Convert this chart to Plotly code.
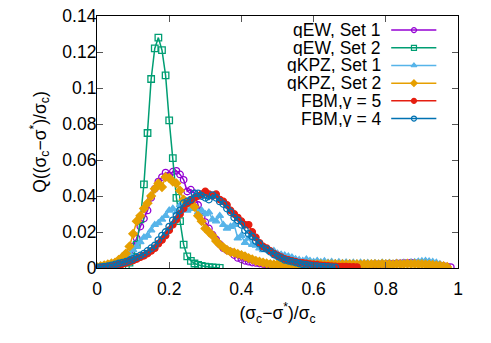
import plotly.graph_objects as go

# bin centres (shared by every series, each series uses the first len(y) bins)
x_bins = [
    0.00, 0.01, 0.02, 0.03, 0.04, 0.05, 0.06, 0.07, 0.08, 0.09,
    0.10, 0.11, 0.12, 0.13, 0.14, 0.15, 0.16, 0.17, 0.18, 0.19,
    0.20, 0.21, 0.22, 0.23, 0.24, 0.25, 0.26, 0.27, 0.28, 0.29,
    0.30, 0.31, 0.32, 0.33, 0.34, 0.35, 0.36, 0.37, 0.38, 0.39,
    0.40, 0.41, 0.42, 0.43, 0.44, 0.45, 0.46, 0.47, 0.48, 0.49,
    0.50, 0.51, 0.52, 0.53, 0.54, 0.55, 0.56, 0.57, 0.58, 0.59,
    0.60, 0.61, 0.62, 0.63, 0.64, 0.65, 0.66, 0.67, 0.68, 0.69,
    0.70, 0.71, 0.72, 0.73, 0.74, 0.75, 0.76, 0.77, 0.78, 0.79,
    0.80, 0.81, 0.82, 0.83, 0.84, 0.85, 0.86, 0.87, 0.88, 0.89,
    0.90, 0.91, 0.92, 0.93, 0.94, 0.95, 0.96, 0.97, 0.98,
]

qew_set1 = [
    0.0002, 0.0003, 0.0005, 0.0008, 0.0012, 0.0018, 0.0025, 0.0035, 0.0055, 0.0085,
    0.012, 0.0165, 0.023, 0.0275, 0.032, 0.039, 0.044, 0.048, 0.0505, 0.053,
    0.0515, 0.0535, 0.054, 0.052, 0.049, 0.0425, 0.0435, 0.0415, 0.035, 0.0285,
    0.0255, 0.022, 0.0185, 0.0158, 0.0132, 0.011, 0.0098, 0.009, 0.0072, 0.0056,
    0.0048, 0.004, 0.0035, 0.003, 0.0028, 0.0025, 0.0022, 0.002, 0.0018, 0.0017,
    0.0015, 0.0014, 0.0012, 0.0013, 0.0011, 0.0012, 0.001, 0.0012, 0.0011, 0.0013,
    0.0012, 0.0014, 0.0013, 0.0015, 0.0014, 0.0016, 0.0015, 0.0017, 0.0016, 0.0018,
    0.0017, 0.0018, 0.0016, 0.0019, 0.0018, 0.002, 0.0019, 0.0021, 0.002, 0.0022,
    0.0021, 0.0024, 0.0023, 0.0026, 0.0025, 0.0028, 0.0027, 0.003, 0.0029, 0.0026,
    0.0028, 0.0025, 0.0022, 0.002, 0.0017, 0.0014, 0.0011, 0.0008, 0.0005,
]

qew_set2 = [
    0.0, 0.0, 0.0, 0.0, 0.0001, 0.0003, 0.0005, 0.001, 0.0015, 0.003,
    0.006, 0.013, 0.027, 0.0465, 0.075, 0.105, 0.122, 0.128, 0.121, 0.107,
    0.082, 0.061, 0.039, 0.026, 0.013, 0.0065, 0.004, 0.0025, 0.0017, 0.0012,
    0.0008, 0.0005, 0.0003, 0.0002, 0.0001,
]

qkpz_set1 = [
    0.0003, 0.0005, 0.001, 0.0015, 0.002, 0.003, 0.0035, 0.0045, 0.006, 0.008,
    0.010, 0.012, 0.0145, 0.017, 0.018, 0.021, 0.024, 0.025, 0.027, 0.029,
    0.032, 0.033, 0.031, 0.035, 0.034, 0.032, 0.033, 0.033, 0.031, 0.032,
    0.030, 0.031, 0.027, 0.026, 0.029, 0.024, 0.022, 0.023, 0.024, 0.0165,
    0.018, 0.014, 0.0165, 0.013, 0.0125, 0.011, 0.010, 0.0105, 0.009, 0.0095,
    0.008, 0.0075, 0.007, 0.0065, 0.006, 0.005, 0.0045, 0.004, 0.0048, 0.004,
    0.0035, 0.004, 0.0033, 0.0038, 0.003, 0.0035, 0.0028, 0.0033, 0.0027, 0.0031,
    0.0026, 0.003, 0.0025, 0.003, 0.0026, 0.0029, 0.0024, 0.0028, 0.0025, 0.003,
    0.0026, 0.0029, 0.0025, 0.0029, 0.0027, 0.003, 0.0028, 0.0031, 0.0033, 0.0036,
    0.0038, 0.004, 0.0037, 0.0034, 0.003, 0.0022, 0.0012,
]

qkpz_set2 = [
    0.0005, 0.001, 0.0015, 0.002, 0.0025, 0.003, 0.0045, 0.006, 0.008, 0.012,
    0.019, 0.026, 0.029, 0.033, 0.036, 0.040, 0.044, 0.047, 0.045, 0.0505,
    0.050, 0.048, 0.047, 0.043, 0.038, 0.036, 0.037, 0.034, 0.029, 0.026,
    0.022, 0.020, 0.018, 0.015, 0.013, 0.0115, 0.010, 0.009, 0.0085, 0.0078,
    0.0072, 0.0065, 0.0055, 0.0048, 0.004, 0.0035, 0.003, 0.0025, 0.0022, 0.002,
    0.0021, 0.0019, 0.002, 0.0018, 0.0021, 0.0019, 0.002, 0.0018, 0.002, 0.0021,
    0.0019, 0.002, 0.0022, 0.0019, 0.0021, 0.002, 0.0022, 0.0019, 0.0021, 0.002,
    0.0022, 0.002, 0.0021, 0.0019, 0.0022, 0.002, 0.0021, 0.0022, 0.002, 0.0023,
    0.0021, 0.0022, 0.002, 0.0023, 0.0021, 0.0022, 0.0024, 0.0022, 0.0023, 0.0021,
    0.0022, 0.002, 0.0019, 0.0017, 0.0015, 0.0013, 0.001, 0.0006,
]

fbm_g5 = [
    0.0002, 0.0004, 0.0006, 0.0008, 0.001, 0.0013, 0.0018, 0.0022, 0.0028, 0.0035,
    0.0042, 0.005, 0.006, 0.0068, 0.008, 0.0095, 0.011, 0.0135, 0.0155, 0.018,
    0.021, 0.024, 0.027, 0.030, 0.033, 0.036, 0.0375, 0.039, 0.040, 0.041,
    0.0425, 0.041, 0.040, 0.041, 0.038, 0.037, 0.035, 0.032, 0.030, 0.028,
    0.026, 0.024, 0.024, 0.020, 0.017, 0.014, 0.012, 0.011, 0.0095, 0.008,
    0.007, 0.006, 0.005, 0.0045, 0.004, 0.0035, 0.003, 0.0028, 0.0025, 0.0022,
    0.002, 0.0018, 0.0015, 0.0013, 0.0012, 0.001, 0.0009, 0.0008, 0.0008, 0.0007,
    0.0006, 0.0006, 0.0005,
]

fbm_g4 = [
    0.0003, 0.0005, 0.0008, 0.001, 0.0015, 0.002, 0.0025, 0.003, 0.0035, 0.0042,
    0.005, 0.006, 0.007, 0.008, 0.0095, 0.011, 0.0125, 0.0155, 0.018, 0.020,
    0.023, 0.0265, 0.029, 0.032, 0.036, 0.037, 0.038, 0.0415, 0.0415, 0.040,
    0.039, 0.038, 0.0405, 0.039, 0.037, 0.0355, 0.033, 0.031, 0.028, 0.0265,
    0.024, 0.021, 0.019, 0.0175, 0.015, 0.0135, 0.011, 0.0105, 0.009, 0.0075,
    0.0065, 0.0055, 0.0045, 0.004, 0.0035, 0.003, 0.0025, 0.002, 0.0018, 0.0015,
    0.0012, 0.001, 0.0008, 0.0007, 0.0006, 0.0005, 0.0004,
]

series_names = [
    "qEW, Set 1", "qEW, Set 2", "qKPZ, Set 1",
    "qKPZ, Set 2", "FBM,γ = 5", "FBM,γ = 4",
]
x_ticks = [0, 0.2, 0.4, 0.6, 0.8, 1]
y_ticks = [0, 0.02, 0.04, 0.06, 0.08, 0.1, 0.12, 0.14]

# gnuplot-like styling: (colour, marker symbol)
styles = [
    ("#9400D3", "circle-open"),
    ("#009E73", "square-open"),
    ("#56B4E9", "triangle-up"),
    ("#E69F00", "diamond"),
    ("#E51E10", "circle"),
    ("#0072B2", "circle-open"),
]
all_y = [qew_set1, qew_set2, qkpz_set1, qkpz_set2, fbm_g5, fbm_g4]

FONT = "Liberation Sans, Arial, sans-serif"
FS = 17.5

fig = go.Figure()

for name, ys, (colour, symbol) in zip(series_names, all_y, styles):
    fig.add_trace(
        go.Scatter(
            x=x_bins[: len(ys)],
            y=ys,
            mode="lines+markers",
            name=name,
            line=dict(color=colour, width=1.5),
            marker=dict(symbol=symbol, size=6.5, color=colour,
                        line=dict(color=colour, width=1.3)),
            showlegend=False,
        )
    )

# -- gnuplot style key: text right aligned, sample line with a point on the right
row_top = 0.944      # paper y of first key row
row_step = 0.0702
text_right = 0.79
samp_x0, samp_x1, samp_mid = 0.815, 0.94, 0.878
for i, (name, (colour, symbol)) in enumerate(zip(series_names, styles)):
    yk = row_top - i * row_step
    fig.add_annotation(
        x=text_right, y=yk, xref="paper", yref="paper",
        text=name, showarrow=False, xanchor="right", yanchor="middle",
        height=16, borderpad=0,
        font=dict(family=FONT, size=FS, color="black"),
    )
    fig.add_trace(
        go.Scatter(
            x=[samp_x0, samp_x1], y=[yk, yk], xaxis="x2", yaxis="y2",
            mode="lines", line=dict(color=colour, width=1.5),
            showlegend=False, hoverinfo="skip",
        )
    )
    fig.add_trace(
        go.Scatter(
            x=[samp_mid], y=[yk], xaxis="x2", yaxis="y2",
            mode="markers",
            marker=dict(symbol=symbol, size=5, color=colour,
                        line=dict(color=colour, width=1.2)),
            showlegend=False, hoverinfo="skip",
        )
    )

axis_common = dict(
    showline=True, linecolor="black", linewidth=1.2, mirror="ticks",
    ticks="inside", ticklen=6, tickwidth=1, tickcolor="#555555",
    showgrid=False, zeroline=False, automargin=False,
    ticklabeloverflow="allow",
    tickfont=dict(family=FONT, size=FS, color="black"),
)

# the page body adds an 8px offset, so margins are shifted by 8px
fig.update_layout(
    width=491, height=343,
    margin=dict(l=89, r=41, t=8, b=83),
    paper_bgcolor="white", plot_bgcolor="white",
    font=dict(family=FONT, size=FS, color="black"),
    xaxis=dict(
        range=[0, 1], tickvals=x_ticks, ticklabelstandoff=5,
        title=dict(text="(σ<sub>c</sub>−σ<sup>*</sup>)/σ<sub>c</sub>",
                   font=dict(family=FONT, size=FS), standoff=8),
        **axis_common,
    ),
    yaxis=dict(
        range=[0, 0.14], tickvals=y_ticks, ticklabelstandoff=-4,
        title=dict(text="Q((σ<sub>c</sub>−σ<sup>*</sup>)/σ<sub>c</sub>)",
                   font=dict(family=FONT, size=FS), standoff=11),
        **axis_common,
    ),
    xaxis2=dict(range=[0, 1], overlaying="x", anchor="y2", visible=False),
    yaxis2=dict(range=[0, 1], overlaying="y", anchor="x2", visible=False),
    showlegend=False,
)

fig.write_html("out.html")
